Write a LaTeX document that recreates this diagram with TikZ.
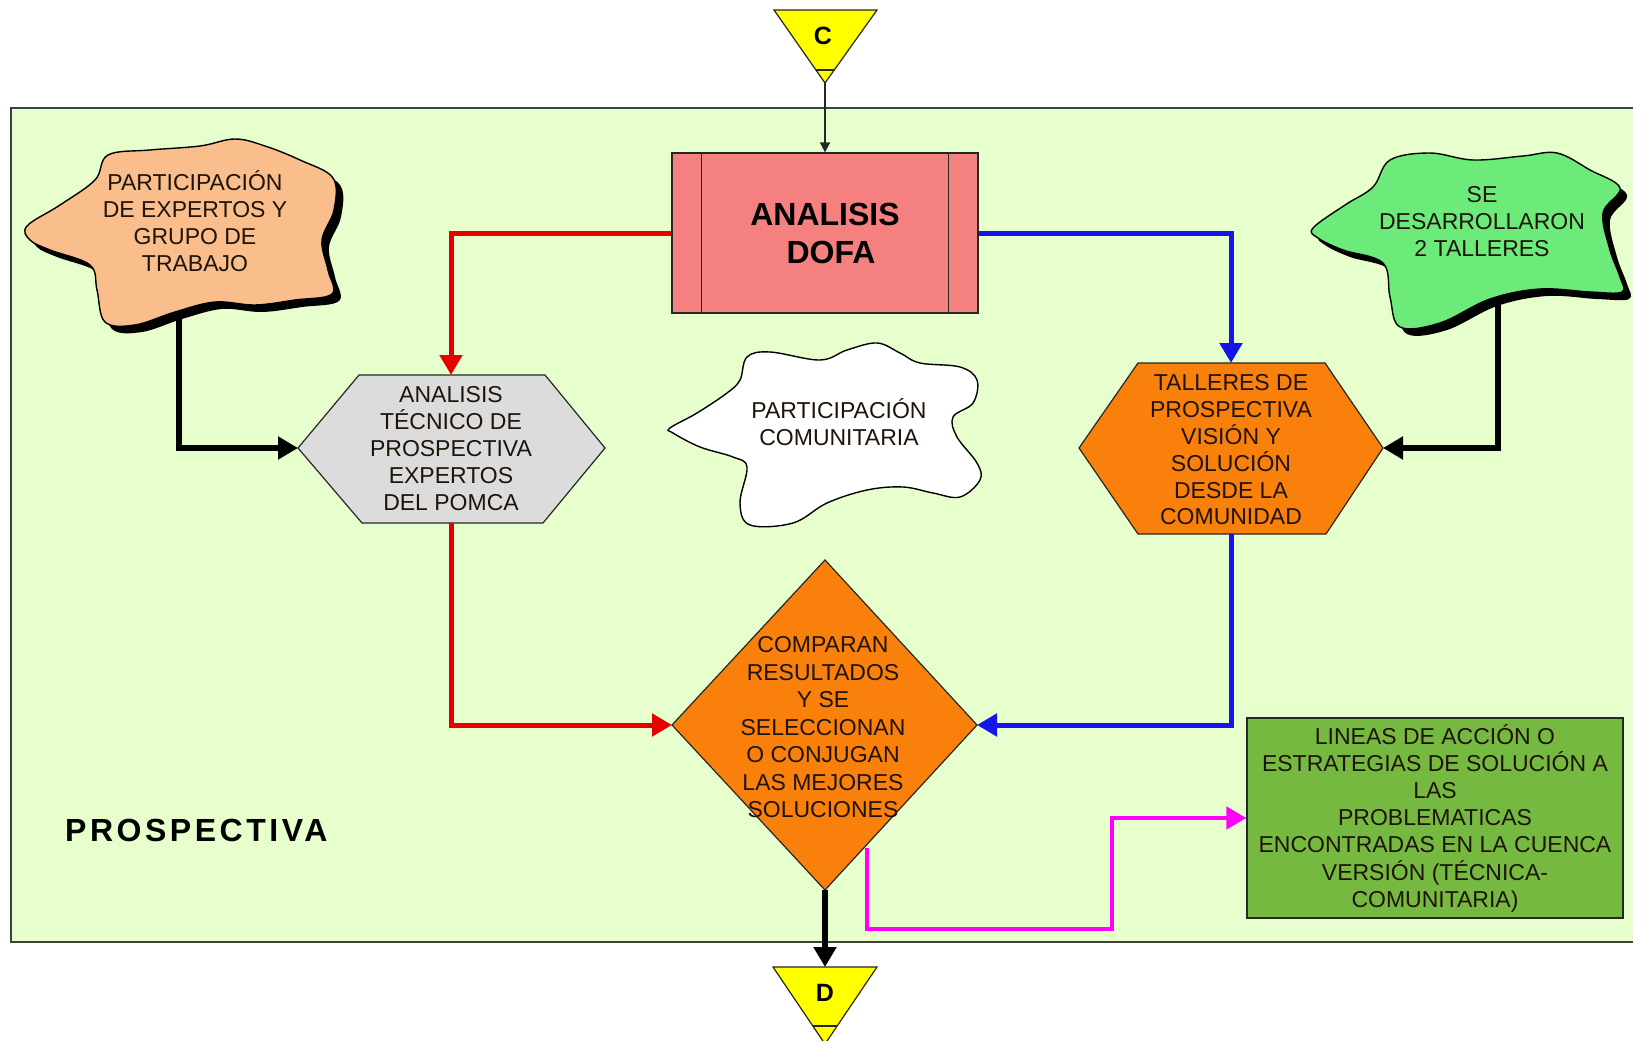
\documentclass[tikz,border=0pt]{standalone}
\usepackage{fontspec}
\setmainfont{Liberation Sans}
\usetikzlibrary{arrows.meta,calc}

\definecolor{panelgreen}{RGB}{230,255,204}
\definecolor{peach}{RGB}{250,190,140}
\definecolor{mint}{RGB}{108,235,122}
\definecolor{dofapink}{RGB}{245,128,128}
\definecolor{hexgray}{RGB}{220,220,220}
\definecolor{deeporange}{RGB}{250,128,12}
\definecolor{leafgreen}{RGB}{118,185,64}
\definecolor{signyellow}{RGB}{255,255,0}
\definecolor{linkred}{RGB}{230,0,0}
\definecolor{linkblue}{RGB}{20,20,235}
\definecolor{linkmagenta}{RGB}{255,0,255}
\definecolor{inkdark}{RGB}{30,20,10}

\tikzset{
  lbl/.style={font=\fontsize{23}{27}\selectfont, align=center, text=inkdark, inner sep=0pt},
  shapeline/.style={draw=black!85, line width=1.2pt},
  cloudline/.style={draw=black, line width=1.4pt},
  bigtip/.style={-{Triangle[length=20pt,width=22pt]}},
  redlink/.style={bigtip, draw=linkred, line width=5pt},
  bluelink/.style={bigtip, draw=linkblue, line width=5pt},
  blacklink/.style={bigtip, draw=black, line width=6pt},
  magentalink/.style={bigtip, draw=linkmagenta, line width=4.5pt},
  thinlink/.style={-{Triangle[length=10pt,width=10pt]}, draw=black!85, line width=1.5pt},
}

\begin{document}
\begin{tikzpicture}[x=1pt,y=-1pt]
\clip (0,0) rectangle (1633,1041);
\fill[white] (0,0) rectangle (1633,1041);

% connection points on the drawn shapes
\coordinate (cApex)  at (825,83);
\coordinate (dTop)   at (825,967);
\coordinate (hexLn)  at (451,375);
\coordinate (hexLs)  at (451,523);
\coordinate (hexLw)  at (298,448);
\coordinate (hexRn)  at (1231,363);
\coordinate (hexRs)  at (1231,534);
\coordinate (hexRe)  at (1383,448);
\coordinate (diaN)   at (825,560);
\coordinate (diaW)   at (672,725);
\coordinate (diaE)   at (977,725);
\coordinate (diaS)   at (825,890);
\coordinate (diaSE)  at (867,848);
\coordinate (magBend) at (1112,929);
\coordinate (peachFoot) at (179,300);
\coordinate (mintFoot)  at (1498,290);

% main panel
\draw[fill=panelgreen, draw=black!75, line width=1.5pt] (11,108) rectangle (1660,942);

% links leaving the two side clouds (drawn below the clouds)
\draw[blacklink] (peachFoot) |- (hexLw);
\draw[blacklink] (mintFoot) |- (hexRe);

% cloud: expert participation
\fill[black, shift={(7,7)}] plot[smooth cycle, tension=0.6] coordinates {
  (27,226) (60,205) (95,180) (108,155) (150,150) (200,146) (235,139) (265,146)
  (300,160) (333,178) (334,210) (322,240) (328,270) (332,294) (295,300) (255,305)
  (215,302) (175,312) (135,325) (105,322) (97,290) (90,265) (50,250) (30,240)};
\filldraw[fill=peach, cloudline] plot[smooth cycle, tension=0.6] coordinates {
  (27,226) (60,205) (95,180) (108,155) (150,150) (200,146) (235,139) (265,146)
  (300,160) (333,178) (334,210) (322,240) (328,270) (332,294) (295,300) (255,305)
  (215,302) (175,312) (135,325) (105,322) (97,290) (90,265) (50,250) (30,240)};
\node[lbl] (expertos) at (195,221.5) {PARTICIPACIÓN\\DE EXPERTOS Y\\GRUPO DE\\TRABAJO};

% cloud: workshops
\fill[black, shift={(7,7)}] plot[smooth cycle, tension=0.6] coordinates {
  (1313,228) (1345,205) (1373,187) (1390,160) (1430,153) (1473,160) (1523,156)
  (1557,153) (1590,170) (1620,188) (1603,213) (1610,250) (1620,277) (1622,292)
  (1590,292) (1540,289) (1490,299) (1440,323) (1400,327) (1390,297) (1383,263)
  (1343,250) (1318,238)};
\filldraw[fill=mint, cloudline] plot[smooth cycle, tension=0.6] coordinates {
  (1313,228) (1345,205) (1373,187) (1390,160) (1430,153) (1473,160) (1523,156)
  (1557,153) (1590,170) (1620,188) (1603,213) (1610,250) (1620,277) (1622,292)
  (1590,292) (1540,289) (1490,299) (1440,323) (1400,327) (1390,297) (1383,263)
  (1343,250) (1318,238)};
\node[lbl] (talleres2) at (1482,222) {SE\\DESARROLLARON\\2 TALLERES};

% cloud: community participation
\filldraw[fill=white, cloudline] plot[smooth cycle, tension=0.6] coordinates {
  (670,428) (697,413) (727,393) (740,380) (747,357) (770,352) (820,360) (847,350)
  (877,343) (900,353) (920,363) (960,367) (977,380) (973,403) (953,417) (957,437)
  (977,463) (980,480) (960,497) (933,493) (903,487) (867,490) (827,503) (793,523)
  (750,525) (740,503) (747,467) (733,457) (700,447) (673,433)};
\node[lbl] (comunitaria) at (839,422) {PARTICIPACIÓN\\COMUNITARIA};

% DOFA process box
\node[shapeline, fill=dofapink, minimum width=306pt, minimum height=160pt, inner sep=0pt,
      font=\fontsize{32}{38}\selectfont\bfseries, align=center, text=black]
  (dofa) at (825,233) {ANALISIS\\\hspace*{12pt}DOFA};
\draw[shapeline] ([xshift=30pt]dofa.north west) -- ([xshift=30pt]dofa.south west);
\draw[shapeline] ([xshift=-30pt]dofa.north east) -- ([xshift=-30pt]dofa.south east);

% technical analysis hexagon
\filldraw[fill=hexgray, shapeline] (359,375) -- (545,375) -- (605,448) -- (543,523)
  -- (362,523) -- (hexLw) -- cycle;
\node[lbl] (tecnico) at (451,449) {ANALISIS\\TÉCNICO DE\\PROSPECTIVA\\EXPERTOS\\DEL POMCA};

% community workshops hexagon
\filldraw[fill=deeporange, shapeline] (1138,363) -- (1325,363) -- (hexRe) -- (1326,534)
  -- (1138,534) -- (1079,448) -- cycle;
\node[lbl, font=\fontsize{23}{26.8}\selectfont] (vision) at (1231,450)
  {TALLERES DE\\PROSPECTIVA\\VISIÓN Y\\SOLUCIÓN\\DESDE LA\\COMUNIDAD};

% decision diamond
\filldraw[fill=deeporange, shapeline] (diaN) -- (diaE) -- (diaS) -- (diaW) -- cycle;
\node[lbl, font=\fontsize{23}{27.5}\selectfont] (comparan) at (823,727.5)
  {COMPARAN\\RESULTADOS\\Y SE\\SELECCIONAN\\O CONJUGAN\\LAS MEJORES\\SOLUCIONES};

% result box
\node[shapeline, fill=leafgreen, minimum width=376pt, minimum height=200pt, inner sep=0pt,
      lbl, font=\fontsize{23}{27.2}\selectfont]
  (lineas) at (1435,818)
  {LINEAS DE ACCIÓN O\\ESTRATEGIAS DE SOLUCIÓN A\\LAS\\PROBLEMATICAS\\ENCONTRADAS EN LA CUENCA\\VERSIÓN (TÉCNICA-\\COMUNITARIA)};

% off-page connectors
\filldraw[fill=signyellow, shapeline] (774,10) -- (877,10) -- (cApex) -- cycle;
\draw[shapeline] (816,70) -- (834,70);
\node[font=\fontsize{25}{28}\selectfont\bfseries, text=black] (markC) at (823,36) {C};
\filldraw[fill=signyellow, shapeline] (773,967) -- (877,967) -- (825,1044) -- cycle;
\draw[shapeline] (813,1026) -- (837,1026);
\node[font=\fontsize{25}{28}\selectfont\bfseries, text=black] (markD) at (825,993) {D};

% section title
\node[anchor=base west, inner sep=0pt, text=black,
      font=\fontsize{32}{36}\selectfont\bfseries\addfontfeature{LetterSpace=11}]
  (titulo) at (65,841) {PROSPECTIVA};

% flow links
\draw[thinlink] (cApex) -- (dofa.north);
\draw[redlink] (dofa.west) -| (hexLn);
\draw[bluelink] (dofa.east) -| (hexRn);
\draw[redlink] (hexLs) |- (diaW);
\draw[bluelink] (hexRs) |- (diaE);
\draw[blacklink] (diaS) -- (dTop);
\draw[magentalink] (diaSE) |- (magBend) |- (lineas.west);
\end{tikzpicture}
\end{document}
